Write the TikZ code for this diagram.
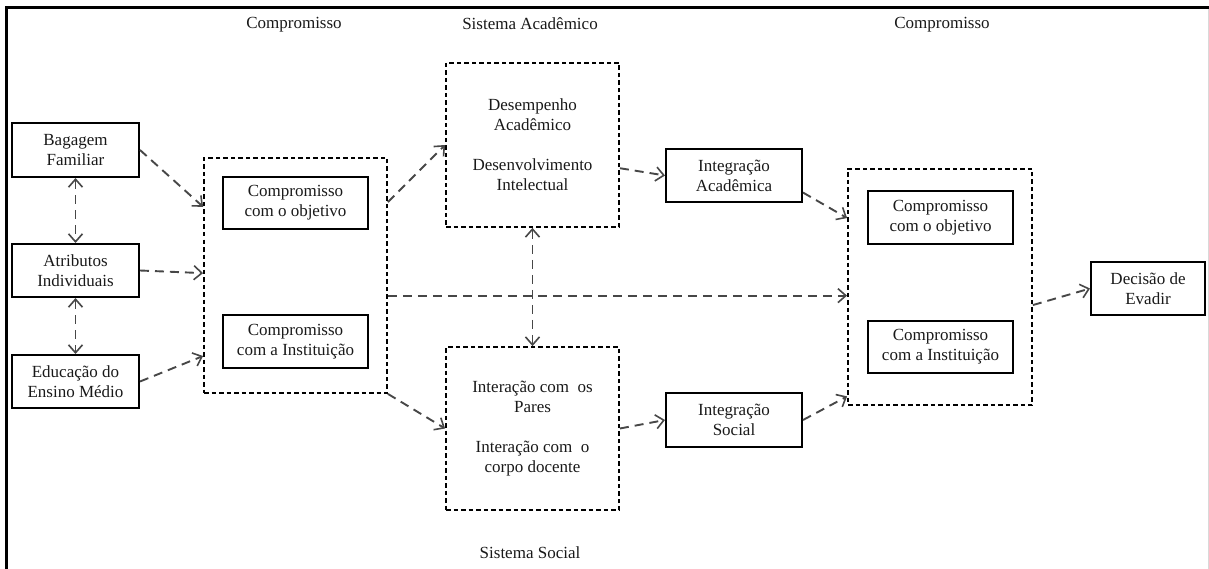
\documentclass[tikz,border=0pt]{standalone}
\usepackage{fontspec}
\setmainfont{Liberation Serif}
\usetikzlibrary{arrows.meta,calc}
\begin{document}
\begin{tikzpicture}[x=1pt,y=-1pt,
  every node/.style={font=\fontsize{17}{20}\selectfont, align=center, inner sep=0pt, text=black!90},
  solidbox/.style={draw, line width=2pt},
  dashbox/.style={draw, line width=1.8pt, dash pattern=on 4.5pt off 3pt},
  conn/.style={draw=black!72, line width=1.9pt, dash pattern=on 9pt off 6pt,
    -{Straight Barb[length=8pt,width=14pt,line width=1.6pt]}},
  dconn/.style={draw=black!72, line width=1.9pt, dash pattern=on 9pt off 6pt,
    {Straight Barb[length=8pt,width=14pt,line width=1.6pt]}-{Straight Barb[length=8pt,width=14pt,line width=1.6pt]}}]
\useasboundingbox (0,0) rectangle (1209,569);
% frame
\coordinate (ftl) at (6.5,7.5);
\coordinate (ftr) at (1209,7.5);
\coordinate (fbl) at (6.5,569);
\coordinate (frt) at (1208,9);
\coordinate (frb) at (1208,569);
\draw[line width=2.8pt] (ftr) -- (ftl) -- (fbl);
\draw[line width=0.8pt, black!15] (frt) -- (frb);

% headings
\node (lc1) at (294,25) {Compromisso};
\node (lsa) at (530,24) {Sistema Acadêmico};
\node (lc2) at (942,25) {Compromisso};
\node (lss) at (530,553) {Sistema Social};

% left boxes
\node[solidbox, minimum width=127pt, minimum height=54pt] (bag) at (75.5,150) {Bagagem\\Familiar};
\node[solidbox, minimum width=127pt, minimum height=53pt] (atr) at (75.5,270.5) {Atributos\\Individuais};
\node[solidbox, minimum width=127pt, minimum height=53pt] (edu) at (75.5,381.5) {Educação do\\Ensino Médio};

% commitment box 1
\node[dashbox, minimum width=183pt, minimum height=235pt] (c1) at (295.5,275.5) {};
\node[solidbox, minimum width=145pt, minimum height=52pt] (co1) at (295.5,203) {Compromisso\\com o objetivo};
\node[solidbox, minimum width=145pt, minimum height=53pt] (ci1) at (295.5,341.5) {Compromisso\\com a Instituição};

% systems
\node[dashbox, minimum width=173pt, minimum height=164pt] (des) at (532.5,145)
  {Desempenho\\Acadêmico\\[20pt]Desenvolvimento\\Intelectual};
\node[dashbox, minimum width=173pt, minimum height=163pt] (int) at (532.5,428.5)
  {Interação com\ \ os\\Pares\\[20pt]Interação com\ \ o\\corpo docente};

% integration
\node[solidbox, minimum width=136pt, minimum height=53pt] (ia) at (734,175.5) {Integração\\Acadêmica};
\node[solidbox, minimum width=136pt, minimum height=54pt] (is) at (734,420) {Integração\\Social};

% commitment box 2
\node[dashbox, minimum width=184pt, minimum height=236pt] (c2) at (940,287) {};
\node[solidbox, minimum width=145pt, minimum height=53pt] (co2) at (940.5,217.5) {Compromisso\\com o objetivo};
\node[solidbox, minimum width=145pt, minimum height=52pt] (ci2) at (940.5,347) {Compromisso\\com a Instituição};

% decision
\node[solidbox, minimum width=114pt, minimum height=53pt] (dec) at (1148,288.5) {Decisão de\\Evadir};

% connectors
\draw[conn] (bag.east) -- ($(c1.north west)!0.21!(c1.south west)$);
\draw[conn] (atr.east) -- ($(c1.north west)!0.49!(c1.south west)$);
\draw[conn] (edu.east) -- ($(c1.north west)!0.84!(c1.south west)$);
\draw[dconn] (bag.south) -- (atr.north);
\draw[dconn] (atr.south) -- (edu.north);

\draw[conn] ($(c1.north east)!0.19!(c1.south east)$) -- (des.west);
\draw[conn] (c1.south east) -- (int.west);
\coordinate (c1m) at ($(c1.north east)!0.585!(c1.south east)$);
\draw[conn] (c1m) -- (c1m -| c2.west);

\draw[conn] ($(des.north east)!0.64!(des.south east)$) -- (ia.west);
\draw[dconn] (des.south) -- (int.north);
\draw[conn] (int.east) -- (is.west);

\draw[conn] ($(ia.north east)!0.81!(ia.south east)$) -- ($(c2.north west)!0.21!(c2.south west)$);
\draw[conn] (is.east) -- ($(c2.north west)!0.96!(c2.south west)$);
\draw[conn] ($(c2.north east)!0.576!(c2.south east)$) -- (dec.west);
\end{tikzpicture}
\end{document}
